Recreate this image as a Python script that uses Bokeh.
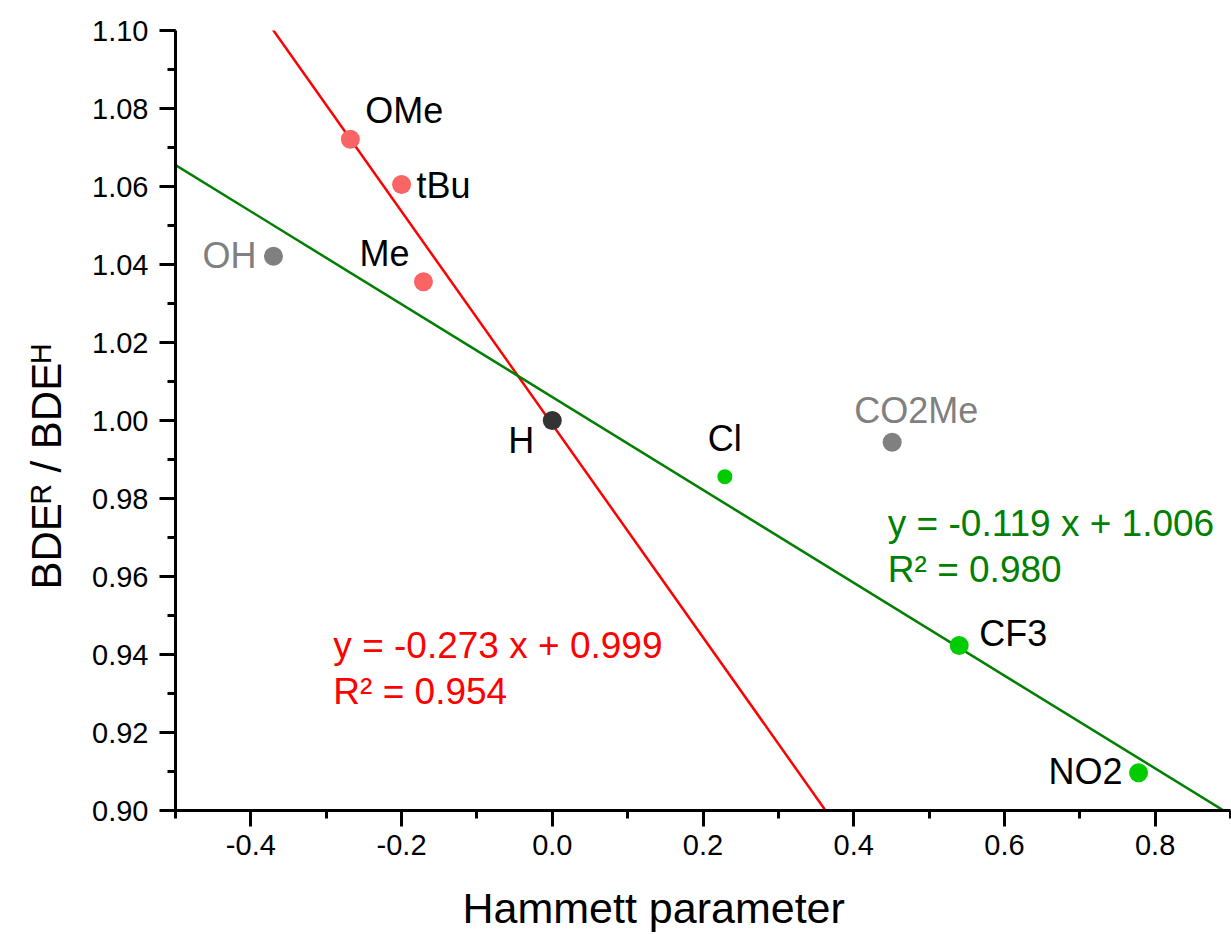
from bokeh.plotting import figure
from bokeh.models import ColumnDataSource, Label, SingleIntervalTicker, NumeralTickFormatter, Range1d, Title
from bokeh.core.properties import value
from bokeh.embed import file_html
from bokeh.resources import INLINE

# ---------------- data ----------------
names = ["OMe", "tBu", "Me", "OH", "H", "Cl", "CO2Me", "CF3", "NO2"]
sigma = [-0.268, -0.200, -0.171, -0.370, 0.000, 0.229, 0.451, 0.540, 0.778]
bde_ratio = [1.0721, 1.0605, 1.0356, 1.0421, 1.0000, 0.9856, 0.9944, 0.9423, 0.9097]
point_colors = ["#F96464", "#F96464", "#F96464", "#808080", "#333333",
                "#00CC00", "#808080", "#00CC00", "#00CC00"]
label_colors = ["black", "black", "black", "#808080", "black",
                "black", "#808080", "black", "black"]
point_sizes = [19, 19, 19, 19, 19, 15, 19, 19, 19]

red_fit = {"slope": -0.273, "intercept": 0.999, "text": "y = -0.273 x + 0.999", "r2": "R² = 0.954"}
green_fit = {"slope": -0.119, "intercept": 1.006, "text": "y = -0.119 x + 1.006", "r2": "R² = 0.980"}

x_title = "Hammett parameter"
y_title = "BDEᴿ / BDEᴴ"

x_ticks_interval = 0.2
y_ticks_interval = 0.02
x_range = (-0.5, 0.9)
y_range = (0.90, 1.10)

# ---------------- layout ----------------
W, H = 1231, 934
BL, BR, BT, BB = 174, 1, 30, 124
FW = W - BL - BR
FH = H - BT - BB
FONT = "Liberation Sans"
BASE_FIX = -12  # px correction of rendered baseline


def page_to_data(px, py):
    """canvas pixel -> data coords"""
    x = x_range[0] + (px - BL) / FW * (x_range[1] - x_range[0])
    y = y_range[1] - (py - BT) / FH * (y_range[1] - y_range[0])
    return x, y


p = figure(width=W, height=H, output_backend="svg", toolbar_location=None,
           x_range=Range1d(*x_range), y_range=Range1d(*y_range),
           min_border_left=BL, min_border_right=BR, min_border_top=BT, min_border_bottom=BB)
p.outline_line_color = None
p.xgrid.visible = False
p.ygrid.visible = False
p.background_fill_color = "white"
p.border_fill_color = "white"

# fit lines
fx = [x_range[0], x_range[1]]
p.line(fx, [red_fit["slope"] * v + red_fit["intercept"] for v in fx], line_color="#FF0000", line_width=2.5)
p.line(fx, [green_fit["slope"] * v + green_fit["intercept"] for v in fx], line_color="#007F00", line_width=2.5)

# points
dy = [-17, 13, -16, 11, 32, -26, -20, 0, 11]
src = ColumnDataSource(dict(
    x=sigma, y=bde_ratio, name=names, pc=point_colors, lc=label_colors, sz=point_sizes,
    align=["left", "left", "right", "right", "right", "center", "left", "left", "right"],
    dx=[15, 15, -14, -17, -18, 0, -38, 20, -16],
    dy=[d + BASE_FIX for d in dy],
))
p.scatter("x", "y", source=src, size="sz", fill_color="pc", line_color=None)
p.text("x", "y", text="name", source=src, text_color="lc", text_align="align",
       text_baseline=value("alphabetic"), x_offset="dx", y_offset="dy",
       text_font=value(FONT), text_font_size=value("36px"))

# equations
for fit, color, (px, py) in [(green_fit, "#007F00", (887, 535)), (red_fit, "#FF0000", (332, 657))]:
    x0, y0 = page_to_data(px, py + BASE_FIX)
    x1, y1 = page_to_data(px, py + 46 + BASE_FIX)
    p.add_layout(Label(x=x0, y=y0, text=fit["text"], text_color=color, text_font=FONT,
                       text_font_size="37px", text_baseline="alphabetic"))
    p.add_layout(Label(x=x1, y=y1, text=fit["r2"], text_color=color, text_font=FONT,
                       text_font_size="37px", text_baseline="alphabetic"))

# axes
for ax in (p.xaxis[0], p.yaxis[0]):
    ax.axis_line_width = 3
    ax.axis_line_color = "black"
    ax.major_tick_line_width = 3
    ax.minor_tick_line_width = 3
    ax.major_tick_in = 0
    ax.minor_tick_in = 0
    ax.major_tick_out = 16
    ax.minor_tick_out = 8
    ax.major_label_text_font = FONT
    ax.major_label_text_font_size = "29px"
    ax.major_label_text_color = "black"

p.xaxis.ticker = SingleIntervalTicker(interval=x_ticks_interval, num_minor_ticks=2)
p.yaxis.ticker = SingleIntervalTicker(interval=y_ticks_interval, num_minor_ticks=2)
p.xaxis.formatter = NumeralTickFormatter(format="0.0")
p.yaxis.formatter = NumeralTickFormatter(format="0.00")
p.xaxis.major_label_standoff = 8
p.yaxis.major_label_standoff = 11

# invisible spacer below the x tick labels (pushes the x title down)
p.xaxis.axis_label = "\u00a0"
p.xaxis.axis_label_text_font_size = "10px"
p.xaxis.axis_label_standoff = 10

# axis titles as side-panel titles (positioned like the reference)
p.add_layout(Title(text=x_title, align="left", offset=461 - BL, standoff=0,
                   text_font=FONT, text_font_size="43px", text_font_style="normal",
                   text_color="black"), "below")
p.add_layout(Title(text=y_title, align="left", offset=(H - BB) - 589, standoff=40,
                   text_font=FONT, text_font_size="42px", text_font_style="normal",
                   text_color="black"), "left")

open("out.html", "w").write(file_html(p, INLINE))
